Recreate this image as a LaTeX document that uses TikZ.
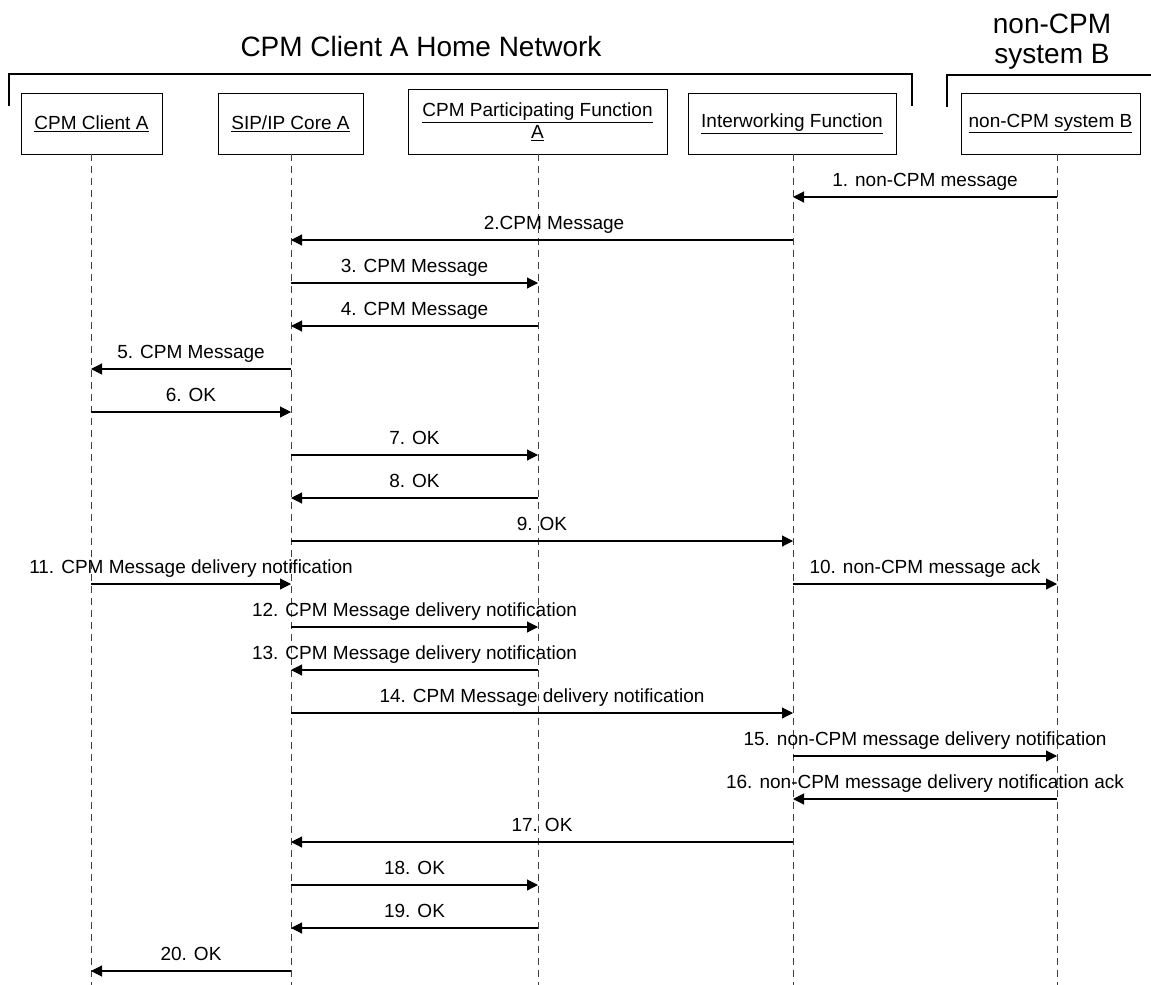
\documentclass[tikz,border=0pt]{standalone}
\usepackage{fontspec}
\setmainfont{Liberation Sans}
\usetikzlibrary{arrows.meta}
\begin{document}
\begin{tikzpicture}[x=1pt,y=-1pt,
  entity/.style={draw=black, line width=1pt, inner sep=0pt, align=center,
    font=\fontsize{19}{22}\selectfont},
  lifeline/.style={draw=black!75, line width=1pt, dash pattern=on 7pt off 5pt},
  msg/.style={draw=black, line width=1.1pt, -{Triangle[length=11pt,width=11pt]}},
  lbl/.style={midway, anchor=base, yshift=11pt, inner sep=0pt,
    font=\fontsize{19}{22}\selectfont},
  bracket/.style={draw=black, line width=1.5pt},
  head/.style={font=\fontsize{28}{30}\selectfont, align=center, inner sep=0pt}]
\useasboundingbox (0,0) rectangle (1151,985);
\fill[white] (0,0) rectangle (1151,985);

% group headings and brackets
\node[head, anchor=base] (tA) at (421,56) {CPM Client A Home Network};
\node[head, anchor=base] (tB) at (1052,63) {non-CPM\\system B};
\draw[bracket] (9,106) -- (9,74) -- (912,74) -- (912,106);
\draw[bracket] (947,107) -- (947,75) -- (1151,75);

% entities
\node[entity, minimum width=141pt, minimum height=61pt] (ca) at (91.5,123.5) {\underline{CPM Client A}};
\node[entity, minimum width=145pt, minimum height=61pt] (sip) at (290.5,123.5) {\underline{SIP/IP Core A}};
\node[entity, minimum width=259pt, minimum height=65pt] (pf) at (537.5,121.5) {\underline{CPM Participating Function}\\\underline{A}};
\node[entity, minimum width=208pt, minimum height=61pt] (iwf) at (792,123.5) {\underline{Interworking Function}};
\node[entity, minimum width=179pt, minimum height=61pt] (nb) at (1050.5,123.5) {\underline{non-CPM system B}};

% lifelines
\coordinate (LA) at (91,154);
\coordinate (LS) at (291,154);
\coordinate (LP) at (538,154);
\coordinate (LI) at (793,154);
\coordinate (LB) at (1057,154);
\coordinate (EA) at (91,985);
\coordinate (ES) at (291,985);
\coordinate (EP) at (538,985);
\coordinate (EI) at (793,985);
\coordinate (EB) at (1057,985);
\draw[lifeline] (LA) -- (EA);
\draw[lifeline] (LS) -- (ES);
\draw[lifeline] (LP) -- (EP);
\draw[lifeline] (LI) -- (EI);
\draw[lifeline] (LB) -- (EB);

% messages
\newcommand{\msgarrow}[4]{\draw[msg] (#1 |- 0,#3) -- node[lbl] {#4} (#2 |- 0,#3);}
\msgarrow{LB}{LI}{197}{1. non-CPM message}
\draw[msg] (LI |- 0,240) -- node[lbl, xshift=12pt] {2.CPM Message} (LS |- 0,240);
\msgarrow{LS}{LP}{283}{3. CPM Message}
\msgarrow{LP}{LS}{326}{4. CPM Message}
\msgarrow{LS}{LA}{369}{5. CPM Message}
\msgarrow{LA}{LS}{412}{6. OK}
\msgarrow{LS}{LP}{455}{7. OK}
\msgarrow{LP}{LS}{498}{8. OK}
\msgarrow{LS}{LI}{541}{9. OK}
\msgarrow{LI}{LB}{584}{10. non-CPM message ack}
\msgarrow{LA}{LS}{584}{11. CPM Message delivery notification}
\msgarrow{LS}{LP}{627}{12. CPM Message delivery notification}
\msgarrow{LP}{LS}{670}{13. CPM Message delivery notification}
\msgarrow{LS}{LI}{713}{14. CPM Message delivery notification}
\msgarrow{LI}{LB}{756}{15. non-CPM message delivery notification}
\msgarrow{LB}{LI}{799}{16. non-CPM message delivery notification ack}
\msgarrow{LI}{LS}{842}{17. OK}
\msgarrow{LS}{LP}{885}{18. OK}
\msgarrow{LP}{LS}{928}{19. OK}
\msgarrow{LS}{LA}{971}{20. OK}
\end{tikzpicture}
\end{document}
